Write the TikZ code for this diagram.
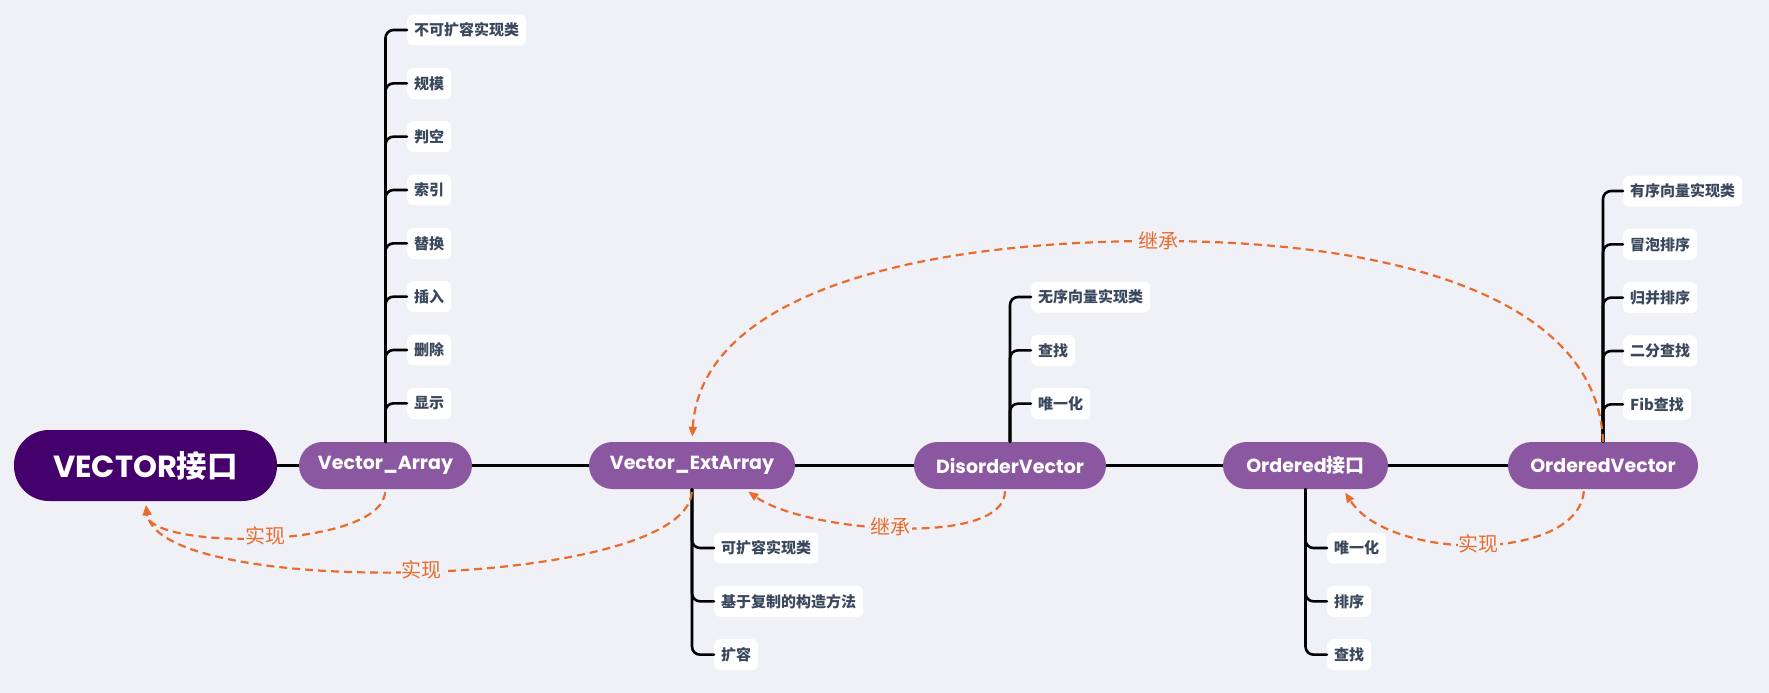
\documentclass[tikz,border=0pt]{standalone}
\usepackage{fontspec}
\usepackage{tikz}
\usepackage{xcolor}
\usetikzlibrary{arrows.meta}

\newfontfamily\latinfont{Poppins}
\newfontfamily\cjk{Noto Sans CJK SC}

\definecolor{bgcolor}{RGB}{240,241,246}
\definecolor{rootpurple}{RGB}{68,0,107}
\definecolor{topicpurple}{RGB}{139,87,160}
\definecolor{leafgray}{RGB}{58,72,94}
\definecolor{linkorange}{RGB}{232,108,48}

\tikzset{
  topic/.style={fill=topicpurple, text=white, minimum height=47pt,
    rounded corners=23.5pt, inner sep=0pt,
    font=\fontsize{19}{23}\selectfont\latinfont\bfseries},
  leaf/.style={fill=white, text=leafgray, rounded corners=6pt, anchor=west,
    minimum height=31pt, inner xsep=7pt, inner ysep=0pt,
    font=\fontsize{15}{18}\selectfont\cjk\bfseries},
  branch/.style={line width=2.6pt, line cap=round, rounded corners=8pt},
  link/.style={draw=linkorange, line width=2.2pt, dash pattern=on 8pt off 5pt,
    -{Triangle[length=10pt,width=8pt]}},
  linklabel/.style={fill=bgcolor, text=linkorange, inner sep=1pt,
    font=\fontsize{20}{22}\selectfont\cjk}
}

\begin{document}
\begin{tikzpicture}[x=1pt, y=-1pt]
    % Background
    \fill[bgcolor] (0,0) rectangle (1769,693);
    \useasboundingbox (0,0) rectangle (1769,693);

    % Topics
    \node[fill=rootpurple, text=white, minimum width=263pt, minimum height=71pt,
      rounded corners=35pt, font=\fontsize{30.5}{34}\selectfont\latinfont\bfseries]
      (vi) at (145.5,465.5) {VECTOR{\cjk\bfseries 接口}};
    \node[topic, minimum width=173pt] (va) at (385.5,465.5) {Vector\_Array};
    \node[topic, minimum width=206pt] (vea) at (692,465.5) {Vector\_ExtArray};
    \node[topic, minimum width=192pt] (dv) at (1010,465.5) {DisorderVector};
    \node[topic, minimum width=165pt] (oi) at (1305.5,465.5) {Ordered{\cjk\bfseries 接口}};
    \node[topic, minimum width=190pt] (ov) at (1603,465.5) {OrderedVector};

    % Main line
    \draw[line width=3pt] (vi) -- (va) -- (vea) -- (dv) -- (oi) -- (ov);

    % Leaves
    \foreach \t [count=\i] in {不可扩容实现类,规模,判空,索引,替换,插入,删除,显示} {
        \node[leaf] (va\i) at (407,{30+53.33*(\i-1)}) {\t};
        \draw[branch] (va.north) |- (va\i.west);
    }
    \foreach \t [count=\i] in {可扩容实现类,基于复制的构造方法,扩容} {
        \node[leaf] (vea\i) at (714,{548+53.33*(\i-1)}) {\t};
        \draw[branch] (vea.south) |- (vea\i.west);
    }
    \foreach \t [count=\i] in {无序向量实现类,查找,唯一化} {
        \node[leaf] (dv\i) at (1031,{297+53.33*(\i-1)}) {\t};
        \draw[branch] (dv.north) |- (dv\i.west);
    }
    \foreach \t [count=\i] in {唯一化,排序,查找} {
        \node[leaf] (oi\i) at (1327,{548+53.33*(\i-1)}) {\t};
        \draw[branch] (oi.south) |- (oi\i.west);
    }
    \foreach \t [count=\i] in {有序向量实现类,冒泡排序,归并排序,二分查找,Fib查找} {
        \node[leaf] (ov\i) at (1623,{191+53.33*(\i-1)}) {\t};
        \draw[branch] (ov.north) |- (ov\i.west);
    }

    % Relations
    \draw[link, shorten <=3pt, shorten >=4pt] (va.south)
        .. controls (380,550) and (150,550) .. node[linklabel] {实现} (vi.south);
    \draw[link, shorten <=3pt, shorten >=4pt] (vea.south)
        .. controls (685,590) and (160,600) .. node[linklabel] {实现} (vi.south);
    \draw[link, shorten <=2pt, shorten >=4pt] ([xshift=-5pt]dv.south)
        .. controls (1005,548) and (805,532) .. node[linklabel, pos=0.52] {继承} ([xshift=53pt]vea.south);
    \draw[link, shorten <=2pt, shorten >=4pt] ([xshift=-19pt]ov.south)
        .. controls (1578,562) and (1390,562) .. node[linklabel] {实现} ([xshift=37.5pt]oi.south);
    \draw[link, shorten >=5pt] (ov.north)
        .. controls (1598,300) and (1400,241) .. (1158,241)
        .. controls (900,241) and (700,300) .. (vea.north);
    \node[linklabel] (inherit) at (1158,241) {继承};
\end{tikzpicture}
\end{document}
